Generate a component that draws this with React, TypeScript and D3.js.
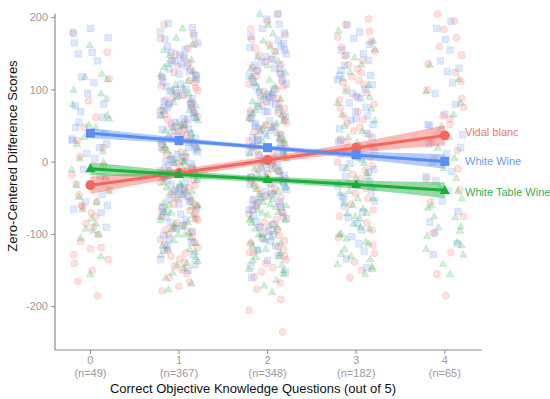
import React from "react";
import * as d3 from "d3";

const groups = [0, 1, 2, 3, 4];
const groupLabels = ["(n=49)", "(n=367)", "(n=348)", "(n=182)", "(n=65)"];
const yTicks = [200, 100, 0, -100, -200];
const yTickLabels = ["200", "100", "0", "-100", "-200"];
const seriesNames = ["Vidal blanc", "White Wine", "White Table Wine"];

// jitter offsets (data units) used for the scattered raw responses
const JITTER = [-0.2, 0.14, -0.05, 0.19, -0.13, 0.03, 0.21, -0.17, 0.09, -0.02, 0.16, -0.11, 0.06, -0.21, 0.12, -0.07, 0.18, 0.0, -0.15, 0.1, -0.19, 0.14, -0.04, 0.2, -0.12, 0.05, -0.18, 0.15, -0.08, 0.02, -0.21, 0.11, -0.14, 0.17, -0.01, 0.08, -0.16, 0.13, -0.1, 0.21, -0.06, 0.04, -0.13, 0.19, -0.03, 0.07, -0.19, 0.15, -0.09, 0.12, -0.17, 0.01, 0.18, -0.11, 0.06];

// raw responses per group (estimated)
const vidalY = [
  [180, 152, 115, 85, 62, 48, 30, 20, 8, -5, -18, -25, -30, -38, -45, -55, -62, -70, -75, -85, -90, -100, -110, -118, -120, -128, -135, -140, -150, -165, -185, -60],
  [190, 178, 171, 163, 158, 150, 146, 141, 137, 133, 128, 124, 121, 117, 113, 110, 106, 103, 99, 96, 92, 89, 86, 82, 79, 76, 72, 69, 66, 63, 59, 56, 53, 50, 46, 43, 40, 37, 33, 30, 27, 24, 20, 17, 14, 11, 7, 4, 1, -2, -6, -9, -12, -15, -19, -22, -25, -28, -32, -35, -38, -41, -45, -48, -51, -54, -58, -61, -64, -67, -71, -74, -77, -80, -84, -87, -90, -94, -97, -100, -104, -107, -111, -114, -118, -122, -126, -130, -134, -139, -144, -149, -154, -160, -166, -172, -178, -60, -20, 35],
  [205, 195, 184, 176, 170, 163, 158, 153, 148, 143, 139, 135, 131, 127, 123, 119, 116, 112, 108, 105, 101, 98, 94, 91, 88, 84, 81, 78, 74, 71, 68, 65, 61, 58, 55, 52, 48, 45, 42, 39, 35, 32, 29, 26, 22, 19, 16, 13, 9, 6, 3, 0, -4, -7, -10, -13, -17, -20, -23, -26, -30, -33, -36, -39, -43, -46, -49, -52, -56, -59, -62, -66, -69, -72, -76, -79, -83, -86, -90, -93, -97, -101, -105, -109, -113, -117, -121, -125, -130, -135, -140, -146, -152, -159, -167, -176, -190, -205, -235, -125],
  [198, 190, 181, 173, 166, 159, 153, 147, 141, 135, 129, 124, 118, 113, 107, 102, 96, 91, 86, 80, 75, 70, 64, 59, 54, 48, 43, 38, 32, 27, 22, 16, 11, 6, 0, -5, -11, -17, -23, -29, -36, -43, -50, -58, -66, -75, -84, -94, -104, -115, -126, -138, -150, -160, 110],
  [205, 195, 184, 172, 160, 148, 136, 124, 112, 100, 88, 76, 64, 52, 40, 28, 16, 4, -9, -23, -38, -55, -75, -98, -125, -155, -185, 60],
];
const whiteY = [
  [185, 178, 172, 165, 152, 150, 140, 118, 110, 95, 80, 78, 70, 62, 55, 48, 40, 32, 25, 20, 12, 5, -10, -20, -30, -45, -55, -60, -65, -70, -90, 30],
  [192, 186, 180, 175, 170, 165, 160, 156, 152, 148, 144, 140, 136, 133, 129, 125, 122, 118, 115, 111, 108, 104, 101, 98, 94, 91, 88, 84, 81, 78, 75, 71, 68, 65, 62, 59, 55, 52, 49, 46, 43, 39, 36, 33, 30, 27, 23, 20, 17, 14, 11, 7, 4, 1, -2, -5, -9, -12, -15, -18, -22, -25, -28, -31, -35, -38, -41, -45, -48, -51, -55, -58, -62, -65, -69, -72, -76, -80, -84, -88, -92, -96, -101, -106, -111, -116, -122, -128, -135, -142, -150, 100, 60, 140, 20, -40, 80, 0, 120, 45],
  [205, 198, 191, 185, 179, 174, 169, 164, 159, 155, 150, 146, 142, 138, 134, 130, 126, 122, 119, 115, 111, 108, 104, 101, 97, 94, 90, 87, 83, 80, 77, 73, 70, 67, 63, 60, 57, 53, 50, 47, 44, 40, 37, 34, 31, 27, 24, 21, 18, 14, 11, 8, 5, 1, -2, -5, -8, -12, -15, -18, -21, -25, -28, -31, -35, -38, -41, -45, -48, -52, -55, -59, -62, -66, -70, -74, -78, -82, -86, -90, -95, -100, -105, -110, -116, -122, -129, -136, -144, -152, -160, 90, 50, 130, 10, -30, 70, 160, -60, 30],
  [190, 180, 171, 163, 155, 148, 141, 134, 127, 120, 114, 107, 101, 95, 88, 82, 76, 70, 64, 58, 52, 46, 40, 34, 28, 22, 16, 10, 4, -2, -8, -14, -20, -27, -33, -40, -47, -54, -61, -69, -77, -85, -94, -103, -113, -123, -134, -146, 60, 120, -10, 30, 90, -50, 150],
  [195, 185, 170, 155, 140, 125, 110, 95, 80, 66, 52, 38, 25, 12, 0, -13, -26, -40, -54, -68, -83, -98, -113, -128, 50, 130, -20, 20],
];
const tableY = [
  [162, 122, 118, 115, 100, 95, 88, 80, 65, 60, 52, 48, 35, 25, 15, 5, 0, -10, -20, -32, -40, -48, -55, -65, -78, -85, -92, -95, -100, -105, -130, -155],
  [185, 172, 163, 155, 148, 142, 136, 131, 126, 121, 116, 112, 107, 103, 99, 95, 91, 87, 83, 79, 76, 72, 68, 65, 61, 58, 54, 51, 47, 44, 40, 37, 33, 30, 26, 23, 19, 16, 13, 9, 6, 2, -1, -5, -8, -11, -15, -18, -22, -25, -28, -32, -35, -39, -42, -45, -49, -52, -56, -59, -62, -66, -69, -73, -76, -79, -83, -86, -90, -93, -97, -100, -104, -108, -112, -116, -120, -124, -128, -132, -137, -142, -147, -153, -160, -168, -176, -40, -80, -10, 20, -60, -120, -100, -70, -30, 0, -90, 50, -140],
  [205, 190, 178, 168, 160, 153, 146, 140, 134, 129, 124, 119, 114, 109, 105, 100, 96, 92, 88, 84, 80, 76, 72, 68, 65, 61, 57, 54, 50, 47, 43, 40, 36, 33, 29, 26, 22, 19, 15, 12, 8, 5, 1, -2, -6, -9, -13, -16, -20, -23, -27, -30, -34, -37, -41, -44, -48, -51, -55, -58, -62, -66, -69, -73, -77, -80, -84, -88, -92, -96, -100, -104, -108, -112, -116, -121, -126, -131, -136, -142, -148, -155, -163, -171, -180, -50, -90, -20, -130, -70, 10, -110, -40, -150, -80, 30, -60, -120, -10, -100],
  [182, 168, 156, 145, 135, 125, 116, 107, 98, 90, 82, 74, 66, 58, 50, 43, 35, 28, 21, 13, 6, -1, -8, -15, -22, -29, -36, -43, -50, -57, -64, -71, -78, -85, -92, -99, -106, -113, -120, -127, -134, -141, -148, -155, -60, -90, -40, -110, -75, -20, -130, -50, -100, -70, -145],
  [135, 115, 98, 82, 66, 50, 35, 20, 6, -8, -22, -36, -50, -63, -76, -89, -102, -115, -128, -141, -155, -90, -60, -110, -75, -40, -120, -95],
];

// fitted means per group and confidence half-widths
const vidalFit = [-32, -15, 3, 20, 37];
const whiteFit = [40, 30, 20, 10, 1];
const tableFit = [-9, -17, -24, -31, -39];
const vidalCI = [12, 6, 5, 7, 14];
const whiteCI = [7, 4, 3, 5, 10];
const tableCI = [9, 5, 4, 6, 11];

const COLORS = ["#F3675F", "#5A8CF5", "#1BAE3B"];
const LABEL_COLORS = ["#F0726B", "#6F9AF2", "#33B04E"];

const W = 550, H = 399;
const FONT = "'Liberation Sans', Arial, Helvetica, sans-serif";

export default function App() {
  const x = d3.scaleLinear().domain([-0.4, 4.42]).range([55, 482]);
  const y = d3.scaleLinear().domain([-260, 205]).range([350, 14]);

  const raw = [vidalY, whiteY, tableY];
  const fits = [vidalFit, whiteFit, tableFit];
  const cis = [vidalCI, whiteCI, tableCI];

  const area = d3
    .area<number>()
    .x((_, i) => x(groups[i]))
    .curve(d3.curveNatural);
  const line = d3
    .line<number>()
    .x((_, i) => x(groups[i]))
    .y((d) => y(d));

  const sym = (k: number, cx: number, cy: number, s: number, fill: string, op: number, key: string, stroke = false) => {
    const sp = stroke ? { stroke: fill, strokeOpacity: op, strokeWidth: 0.8 } : {};
    if (k === 0) return <circle key={key} cx={cx} cy={cy} r={s * 0.55} fill={fill} fillOpacity={op} {...sp} />;
    if (k === 1) return <rect key={key} x={cx - s / 2} y={cy - s / 2} width={s} height={s} fill={fill} fillOpacity={op} {...sp} />;
    const h = s * 0.95;
    return (
      <path
        key={key}
        d={`M${cx},${cy - h * 0.62}L${cx + h * 0.6},${cy + h * 0.42}L${cx - h * 0.6},${cy + h * 0.42}Z`}
        fill={fill}
        fillOpacity={op}
        {...sp}
      />
    );
  };

  const points: React.ReactNode[] = [];
  groups.forEach((g) => {
    const maxLen = Math.max(...raw.map((r) => r[g].length));
    for (let i = 0; i < maxLen; i++) {
      raw.forEach((r, k) => {
        const v = r[g][i];
        if (v === undefined) return;
        const off = JITTER[(i * 3 + k * 17 + g * 7) % JITTER.length];
        points.push(sym(k, x(g + off), y(v), 6.5, COLORS[k], 0.2, `p${g}-${k}-${i}`, true));
      });
    }
  });

  return (
    <svg width={W} height={H} style={{ position: "absolute", left: 0, top: 0, background: "#fff" }} fontFamily={FONT}>
      <rect width={W} height={H} fill="#fff" />
      <g>{points}</g>
      {fits.map((f, k) => (
        <path
          key={`band${k}`}
          d={
            area
              .y0((_, i) => y(f[i] - cis[k][i]))
              .y1((_, i) => y(f[i] + cis[k][i]))(f) || ""
          }
          fill={COLORS[k]}
          fillOpacity={0.45}
        />
      ))}
      {fits.map((f, k) => (
        <g key={`fit${k}`}>
          <path d={line(f) || ""} fill="none" stroke={COLORS[k]} strokeWidth={3} />
          {f.map((v, i) => sym(k, x(groups[i]), y(v), 9, COLORS[k], 1, `m${k}-${i}`))}
        </g>
      ))}
      <line x1={55} x2={55} y1={14} y2={350} stroke="#8c8c8c" strokeWidth={1.2} />
      <line x1={55} x2={482} y1={350} y2={350} stroke="#8c8c8c" strokeWidth={1.2} />
      {yTicks.map((t, i) => (
        <g key={`yt${t}`}>
          <line x1={51} x2={55} y1={y(t)} y2={y(t)} stroke="#8c8c8c" />
          <text x={48} y={y(t)} dy="0.35em" textAnchor="end" fontSize={11} fill="#9a9a9a">
            {yTickLabels[i]}
          </text>
        </g>
      ))}
      {groups.map((g, i) => (
        <g key={`xt${g}`}>
          <line x1={x(g)} x2={x(g)} y1={350} y2={354} stroke="#8c8c8c" />
          <text x={x(g)} y={364} textAnchor="middle" fontSize={11} fill="#9a9a9a">
            {String(g)}
          </text>
          <text x={x(g)} y={377} textAnchor="middle" fontSize={11} fill="#9a9a9a">
            {groupLabels[i]}
          </text>
        </g>
      ))}
      <text x={253} y={393} textAnchor="middle" fontSize={13} fill="#111">
        Correct Objective Knowledge Questions (out of 5)
      </text>
      <text transform={`translate(17,${156}) rotate(-90)`} textAnchor="middle" fontSize={13} fill="#111">
        Zero-Centered Difference Scores
      </text>
      {seriesNames.map((n, k) => (
        <text key={n} x={465} y={y(fits[k][4]) + [-3, 0, 2][k]} dy="0.35em" fontSize={11} fill={LABEL_COLORS[k]}>
          {n}
        </text>
      ))}
    </svg>
  );
}
